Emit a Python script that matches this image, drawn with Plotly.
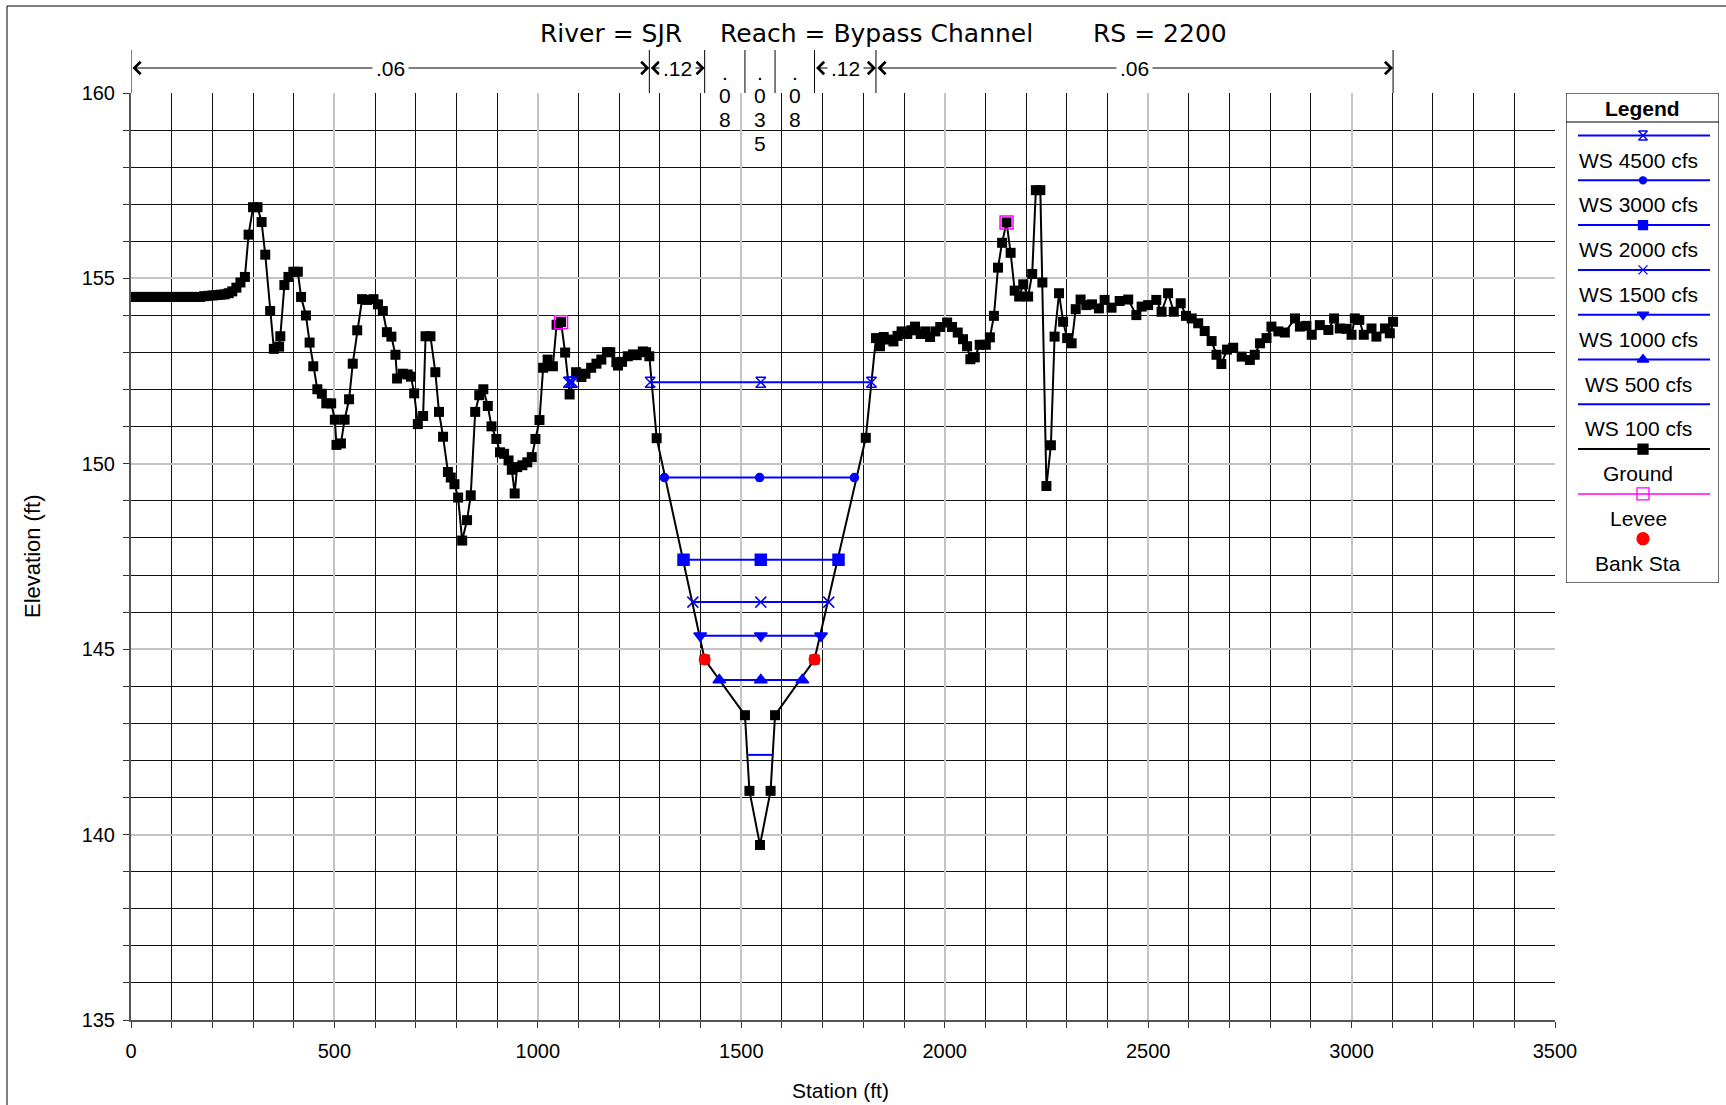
import plotly.graph_objects as go

# ---------------- data ----------------
ground_sta = [
    0, 10, 20, 30, 40, 50, 60, 70, 80, 90,
    100, 110, 120, 130, 140, 150, 160, 170, 180, 190,
    200, 210, 220, 230, 240, 249, 259, 269, 280, 289,
    300, 311, 321, 330, 342, 351, 364, 367, 377, 387,
    399, 410, 418, 430, 439, 448, 458, 469, 480, 492,
    501, 505, 516, 525, 536, 545, 556, 568, 580, 596,
    607, 619, 629, 640, 650, 654, 668, 680, 688, 696,
    705, 718, 724, 736, 748, 757, 767, 779, 786, 795,
    804, 814, 826, 835, 846, 856, 866, 877, 886, 898,
    907, 917, 928, 936, 943, 949, 962, 974, 985, 994,
    1004, 1013, 1024, 1037, 1046, 1057, 1067, 1078, 1094, 1107,
    1117, 1131, 1144, 1156, 1170, 1178, 1193, 1197, 1207, 1221,
    1234, 1243, 1258, 1266, 1274, 1292, 1410, 1509, 1520, 1546,
    1572, 1583, 1680, 1806, 1831, 1841, 1850, 1862, 1874, 1884,
    1894, 1908, 1918, 1927, 1941, 1952, 1964, 1977, 1989, 2006,
    2018, 2032, 2045, 2055, 2063, 2074, 2086, 2101, 2111, 2121,
    2131, 2141, 2152, 2162, 2172, 2183, 2193, 2205, 2215, 2224,
    2235, 2240, 2250, 2261, 2270, 2281, 2291, 2301, 2312, 2322,
    2334, 2348, 2362, 2379, 2393, 2410, 2430, 2451, 2471, 2484,
    2500, 2520, 2533, 2549, 2563, 2580, 2593, 2607, 2623, 2639,
    2656, 2668, 2680, 2694, 2709, 2730, 2750, 2762, 2775, 2791,
    2803, 2820, 2836, 2861, 2873, 2889, 2902, 2922, 2943, 2957,
    2971, 2988, 3000, 3008, 3019, 3030, 3049, 3061, 3082, 3094,
    3102,
]
ground_elev = [
    154.5, 154.5, 154.5, 154.5, 154.5, 154.5, 154.5, 154.5, 154.5, 154.5,
    154.5, 154.5, 154.5, 154.5, 154.5, 154.5, 154.5, 154.5, 154.52, 154.53,
    154.54, 154.55, 154.56, 154.57, 154.6, 154.65, 154.75, 154.89, 155.04, 156.18,
    156.92, 156.92, 156.52, 155.64, 154.12, 153.1, 153.16, 153.44, 154.82, 155.04,
    155.18, 155.18, 154.5, 154.0, 153.27, 152.63, 152.01, 151.89, 151.63, 151.63,
    151.19, 150.51, 150.55, 151.19, 151.74, 152.7, 153.6, 154.44, 154.42, 154.44,
    154.3, 154.12, 153.55, 153.43, 152.94, 152.3, 152.43, 152.41, 152.35, 151.9,
    151.07, 151.29, 153.44, 153.44, 152.47, 151.4, 150.73, 149.78, 149.63, 149.45,
    149.09, 147.93, 148.48, 149.15, 151.4, 151.85, 152.01, 151.56, 151.01, 150.67,
    150.31, 150.27, 150.09, 149.84, 149.2, 149.91, 149.96, 150.04, 150.18, 150.67,
    151.18, 152.59, 152.81, 152.63, 153.75, 153.82, 153.0, 151.87, 152.47, 152.34,
    152.43, 152.59, 152.7, 152.81, 153.01, 153.01, 152.74, 152.65, 152.75, 152.9,
    152.95, 152.93, 153.03, 153.01, 152.9, 150.69, 144.72, 143.22, 141.18, 139.72,
    141.18, 143.22, 144.72, 150.7, 153.39, 153.17, 153.42, 153.35, 153.3, 153.45,
    153.57, 153.5, 153.6, 153.7, 153.5, 153.57, 153.42, 153.57, 153.69, 153.81,
    153.69, 153.54, 153.36, 153.17, 152.82, 152.87, 153.21, 153.21, 153.41, 153.99,
    155.29, 155.96, 156.51, 155.69, 154.67, 154.51, 154.84, 154.51, 155.12, 157.38,
    157.38, 154.89, 149.4, 150.5, 153.43, 154.6, 153.83, 153.39, 153.25, 154.17,
    154.43, 154.28, 154.3, 154.19, 154.42, 154.21, 154.39, 154.43, 154.01, 154.24,
    154.28, 154.42, 154.1, 154.6, 154.1, 154.33, 153.99, 153.92, 153.79, 153.58,
    153.31, 152.94, 152.69, 153.08, 153.13, 152.89, 152.8, 152.94, 153.25, 153.39,
    153.7, 153.57, 153.54, 153.92, 153.7, 153.72, 153.48, 153.74, 153.61, 153.92,
    153.65, 153.64, 153.48, 153.92, 153.88, 153.48, 153.65, 153.43, 153.65, 153.52,
    153.83,
]

# water surfaces: left edge, middle, right edge stations and elevation
ws_names = ["WS 4500 cfs", "WS 3000 cfs", "WS 2000 cfs", "WS 1500 cfs",
            "WS 1000 cfs", "WS 500 cfs", "WS 100 cfs"]
ws_elev = [152.2, 149.63, 147.41, 146.27, 145.36, 144.17, 142.15]
ws_left = [1276, 1311, 1358, 1381, 1399, 1446, 1517]
ws_mid = [1548, 1545, 1548, 1548, 1548, 1548, 1548]
ws_right = [1820, 1778, 1739, 1715, 1696, 1650, 1579]
# small ponded area of WS 4500 behind the left levee
pond_left, pond_mid, pond_right = 1075, 1080, 1085

levee_sta = [1057, 2152]
levee_elev = [153.82, 156.51]
bank_sta = [1410, 1680]
bank_elev = [144.72, 144.72]

n_bounds = [0, 1274, 1410, 1509, 1583, 1680, 1831, 3102]
n_values = [".06", ".12", ".08", ".035", ".08", ".12", ".06"]

title_parts = ["River = SJR", "Reach = Bypass Channel", "RS = 2200"]

x_ticks = [0, 500, 1000, 1500, 2000, 2500, 3000, 3500]
y_ticks = [135, 140, 145, 150, 155, 160]

# ---------------- styles ----------------
FONT = "Liberation Sans, Arial, sans-serif"
TFONT = "DejaVu Sans, Liberation Sans, sans-serif"
BLUE = "#0000ff"
ws_symbols = ["hourglass-open", "circle", "square", "x-thin-open",
              "triangle-down", "triangle-up", None]
ws_sizes = [10, 8, 11, 11, 11, 11, 0]

W, H = 1726, 1105
ML, MR, MT, MB = 131, 7, 93, 85
PW, PH = W - ML - MR, H - MT - MB
PLOT_RIGHT = 1555


def px(x):
    return (x - ML) / PW


def py(y):
    return (H - MB - y) / PH


fig = go.Figure()

# ground
fig.add_trace(go.Scatter(
    x=ground_sta, y=ground_elev, mode="lines+markers",
    line=dict(color="black", width=2),
    marker=dict(symbol="square", size=10, color="black"),
    showlegend=False, hoverinfo="skip"))

# water surfaces
for i, name in enumerate(ws_names):
    xs = [ws_left[i], ws_mid[i], ws_right[i]]
    ys = [ws_elev[i]] * 3
    if i == 0:
        xs = [pond_left, pond_mid, pond_right, None] + xs
        ys = [ws_elev[i]] * 3 + [None] + ys
    sym = ws_symbols[i]
    fig.add_trace(go.Scatter(
        x=xs, y=ys, mode="lines+markers" if sym else "lines",
        line=dict(color=BLUE, width=2),
        marker=dict(symbol=sym or "circle", size=ws_sizes[i], color=BLUE,
                    line=dict(color=BLUE, width=1.5)),
        showlegend=False, hoverinfo="skip", connectgaps=False))

# levee
fig.add_trace(go.Scatter(
    x=levee_sta, y=levee_elev, mode="markers",
    marker=dict(symbol="square-open", size=13, color="#ff00ff",
                line=dict(color="#ff00ff", width=1.5)),
    showlegend=False, hoverinfo="skip"))
# bank stations
fig.add_trace(go.Scatter(
    x=bank_sta, y=bank_elev, mode="markers",
    marker=dict(symbol="circle", size=12, color="#ff0000"),
    showlegend=False, hoverinfo="skip"))

# ---------------- custom legend (own axes) ----------------
LX0, LX1 = 1566, 1719
LY0, LY1 = 93, 583
LW, LH = LX1 - LX0, LY1 - LY0
leg_items = ws_names + ["Ground", "Levee", "Bank Sta"]
leg_colors = [BLUE] * 7 + ["black", "#ff00ff", None]
leg_syms = ws_symbols + ["square", "square-open", "circle"]
leg_sizes = [9, 7, 9, 9, 10, 10, 0, 10, 12, 12]
leg_mcol = [BLUE] * 7 + ["black", "#ff00ff", "#ff0000"]
annotations = []
for i, lab in enumerate(leg_items):
    yl = 42.5 + 44.8 * i
    yt = 67 + 44.8 * i
    if leg_colors[i]:
        fig.add_trace(go.Scatter(
            x=[12, LW - 9], y=[yl, yl], mode="lines", xaxis="x2", yaxis="y2",
            line=dict(color=leg_colors[i], width=2 if i != 8 else 1.5),
            showlegend=False, hoverinfo="skip"))
    if leg_syms[i]:
        fig.add_trace(go.Scatter(
            x=[77], y=[yl], mode="markers", xaxis="x2", yaxis="y2",
            marker=dict(symbol=leg_syms[i], size=leg_sizes[i], color=leg_mcol[i],
                        line=dict(color=leg_mcol[i], width=1.3)),
            showlegend=False, hoverinfo="skip"))
    annotations.append(dict(x=72, y=yt, xref="x2", yref="y2", text=lab,
                            xanchor="center", yanchor="middle",
                            showarrow=False, font=dict(family=FONT, size=21, color="black")))
annotations.append(dict(x=LW / 2, y=15, xref="x2", yref="y2", text="<b>Legend</b>",
                        xanchor="center", yanchor="middle",
                        showarrow=False, font=dict(family=FONT, size=21, color="black")))

shapes = []
# legend frame and header separator
shapes.append(dict(type="rect", xref="x2", yref="y2", x0=0, x1=LW, y0=0, y1=LH,
                   line=dict(color="#404040", width=1.5), fillcolor="rgba(0,0,0,0)"))
shapes.append(dict(type="line", xref="x2", yref="y2", x0=0, x1=LW + 4, y0=29, y1=29,
                   line=dict(color="black", width=1)))
# outer frame (left and top edges)
shapes.append(dict(type="line", xref="paper", yref="paper", x0=px(7), x1=px(7),
                   y0=py(H + 5), y1=py(6), line=dict(color="black", width=1)))
shapes.append(dict(type="line", xref="paper", yref="paper", x0=px(7), x1=px(W + 5),
                   y0=py(6), y1=py(6), line=dict(color="black", width=1)))

# Manning's n separators, arrows and labels
n_line_y = py(68)
for b in n_bounds:
    shapes.append(dict(type="line", xref="x", yref="paper", x0=b, x1=b,
                       y0=py(50), y1=1.0, line=dict(color="black", width=1)))

for i, v in enumerate(n_values):
    a, b = n_bounds[i], n_bounds[i + 1]
    mid = (a + b) / 2
    width_px = (b - a) * (PLOT_RIGHT - ML) / 3500
    if width_px > 50:
        annotations.append(dict(
            x=b, y=n_line_y, xref="x", yref="paper", ax=a, ay=0, axref="x", ayref="pixel",
            text="", showarrow=True, arrowside="end+start", arrowhead=4,
            arrowsize=2.4, arrowwidth=1, arrowcolor="black", standoff=0, startstandoff=0))
        annotations.append(dict(
            x=mid, y=n_line_y, xref="x", yref="paper", text=v, showarrow=False,
            xanchor="center", yanchor="middle",
            bgcolor="white", borderpad=3, font=dict(family=FONT, size=21, color="black")))
    else:
        for k, ch in enumerate(v):
            annotations.append(dict(
                x=mid, y=py(72.5 + 23.5 * k), xref="x", yref="paper",
                xanchor="center", yanchor="middle",
                text=ch, showarrow=False,
                font=dict(family=FONT, size=21, color="black")))

# title pieces
for txt, cx in zip(title_parts, [611, 876, 1160]):
    annotations.append(dict(x=px(cx), y=py(33), xref="paper", yref="paper", text=txt,
                            xanchor="center", yanchor="middle",
                            showarrow=False, font=dict(family=TFONT, size=25, color="black")))
# axis titles
annotations.append(dict(x=px(32), y=py(556), xref="paper", yref="paper",
                        text="Elevation (ft)", textangle=-90, showarrow=False,
                        xanchor="center", yanchor="middle",
                        font=dict(family=FONT, size=22, color="black")))
annotations.append(dict(x=px(840), y=py(1090), xref="paper", yref="paper",
                        text="Station (ft)", showarrow=False,
                        xanchor="center", yanchor="middle",
                        font=dict(family=FONT, size=21, color="black")))

for a in annotations:
    fig.add_annotation(**a)

fig.update_layout(
    width=W, height=H, autosize=False,
    margin=dict(l=ML, r=MR, t=MT, b=MB, pad=0, autoexpand=False),
    paper_bgcolor="white", plot_bgcolor="white",
    showlegend=False,
    shapes=shapes,
    font=dict(family=FONT, size=20, color="black"),
    xaxis=dict(
        domain=[0, px(PLOT_RIGHT)], range=[0, 3500], tickmode="array",
        tickvals=x_ticks, ticktext=[str(t) for t in x_ticks],
        showgrid=True, gridcolor="#c4c4c4", gridwidth=2,
        minor=dict(dtick=100, tick0=0, showgrid=True, gridcolor="#111111", gridwidth=1,
                   ticks="outside", ticklen=6, tickcolor="#333333"),
        ticks="outside", ticklen=6, tickcolor="#333333",
        showline=True, linecolor="#555555", linewidth=2,
        zeroline=False, ticklabelstandoff=6, automargin=False,
        tickfont=dict(family=FONT, size=20, color="black"),
    ),
    yaxis=dict(
        domain=[0, 1], range=[135, 160], tickmode="array",
        tickvals=y_ticks, ticktext=[str(t) for t in y_ticks],
        showgrid=True, gridcolor="#c4c4c4", gridwidth=2,
        minor=dict(dtick=1, tick0=135, showgrid=True, gridcolor="#111111", gridwidth=1,
                   ticks="outside", ticklen=6, tickcolor="#333333"),
        ticks="outside", ticklen=6, tickcolor="#333333",
        showline=True, linecolor="#555555", linewidth=2,
        zeroline=False, ticklabelstandoff=4, automargin=False,
        tickfont=dict(family=FONT, size=20, color="black"),
    ),
    xaxis2=dict(domain=[px(LX0), 1.0], range=[0, LW], anchor="y2", visible=False,
                fixedrange=True, automargin=False),
    yaxis2=dict(domain=[py(LY1), py(LY0)], range=[LH, 0], anchor="x2", visible=False,
                fixedrange=True, automargin=False),
)

fig.write_html("out.html", config={"responsive": False})
